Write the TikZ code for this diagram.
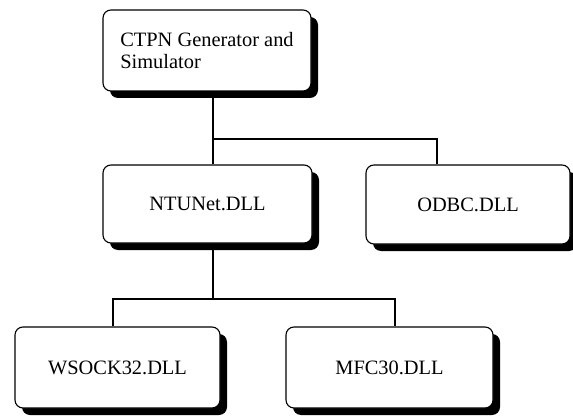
\documentclass[tikz,border=0pt]{standalone}
\usepackage{fontspec}
\setmainfont{Liberation Serif}
\usetikzlibrary{shadows}

\tikzset{
  dllbox/.style={
    draw=black, line width=1.1pt, fill=white, rounded corners=8pt,
    drop shadow={shadow xshift=7pt, shadow yshift=-7pt, fill=black, opacity=1},
    font=\fontsize{20.4pt}{21.5pt}\selectfont,
    inner sep=0pt, align=center
  },
  link/.style={draw=black, line width=1.1pt}
}

\begin{document}
\begin{tikzpicture}[x=1pt, y=-1pt]
  \useasboundingbox (0,0) rectangle (573,417);

  % branching points of the tree
  \coordinate (j1) at (213,139);
  \coordinate (j2) at (213,299);

  % module boxes
  \node[dllbox, minimum width=208pt, minimum height=81pt, align=left]
    (gen) at (207,50.5) {CTPN Generator and\\Simulator};
  \node[dllbox, minimum width=209pt, minimum height=78pt] (ntu)  at (207.5,204)   {NTUNet.DLL};
  \node[dllbox, minimum width=204pt, minimum height=79pt] (odbc) at (468,204.5)   {ODBC.DLL};
  \node[dllbox, minimum width=205pt, minimum height=81pt] (ws)   at (117.5,367.5) {WSOCK32.DLL};
  \node[dllbox, minimum width=207pt, minimum height=81pt] (mfc)  at (389.5,367.5) {MFC30.DLL};

  % tree connectors
  \path[link] (j1 |- gen.south) -- (j1 |- ntu.north);
  \path[link] (j1) -| ([xshift=-31pt]odbc.north);
  \path[link] (j2 |- ntu.south) -- (j2);
  \path[link] ([xshift=-4.5pt]ws.north) |- (j2) -| ([xshift=5.5pt]mfc.north);
\end{tikzpicture}
\end{document}
